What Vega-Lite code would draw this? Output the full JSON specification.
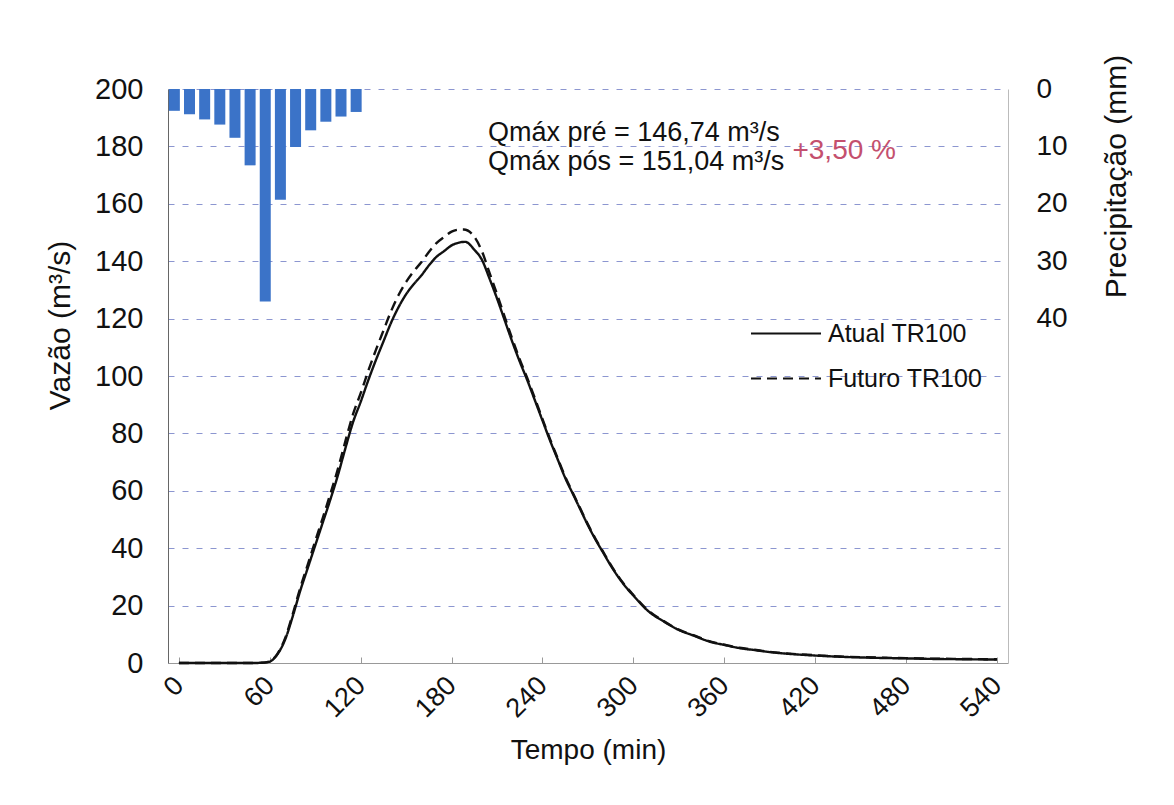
{
  "$schema": "https://vega.github.io/schema/vega-lite/v6.json",
  "width": 840,
  "height": 574,
  "autosize": {"type": "none"},
  "padding": {"left": 168, "top": 89, "right": 166, "bottom": 142},
  "background": "white",
  "config": {
    "view": {"stroke": null},
    "font": "Liberation Sans",
    "axis": {"labelFont": "Liberation Sans", "titleFont": "Liberation Sans", "labelColor": "#111", "titleColor": "#111", "titleFontWeight": "normal"}
  },
  "datasets": {
    "chuva": [
      {"t": -3, "P": 3.8}, {"t": 7, "P": 4.4}, {"t": 17, "P": 5.3}, {"t": 27, "P": 6.2},
      {"t": 37, "P": 8.5}, {"t": 47, "P": 13.3}, {"t": 57, "P": 37.0}, {"t": 67, "P": 19.3},
      {"t": 77, "P": 10.1}, {"t": 87, "P": 7.2}, {"t": 97, "P": 5.7}, {"t": 107, "P": 4.8},
      {"t": 117, "P": 4.0}
    ],
    "vazao": [
      {"t": 0, "Q": 0, "serie": "Atual TR100"}, {"t": 30, "Q": 0, "serie": "Atual TR100"},
      {"t": 50, "Q": 0, "serie": "Atual TR100"}, {"t": 55, "Q": 0.1, "serie": "Atual TR100"},
      {"t": 60, "Q": 0.5, "serie": "Atual TR100"}, {"t": 65, "Q": 3, "serie": "Atual TR100"},
      {"t": 70, "Q": 8, "serie": "Atual TR100"}, {"t": 75, "Q": 16, "serie": "Atual TR100"},
      {"t": 80, "Q": 25, "serie": "Atual TR100"}, {"t": 85, "Q": 33, "serie": "Atual TR100"},
      {"t": 90, "Q": 41, "serie": "Atual TR100"}, {"t": 95, "Q": 49, "serie": "Atual TR100"},
      {"t": 100, "Q": 57, "serie": "Atual TR100"}, {"t": 105, "Q": 65.5, "serie": "Atual TR100"},
      {"t": 110, "Q": 75, "serie": "Atual TR100"}, {"t": 115, "Q": 84, "serie": "Atual TR100"},
      {"t": 120, "Q": 91, "serie": "Atual TR100"}, {"t": 125, "Q": 98.5, "serie": "Atual TR100"},
      {"t": 130, "Q": 105.5, "serie": "Atual TR100"}, {"t": 135, "Q": 112, "serie": "Atual TR100"},
      {"t": 140, "Q": 118.5, "serie": "Atual TR100"}, {"t": 145, "Q": 124, "serie": "Atual TR100"},
      {"t": 150, "Q": 128.5, "serie": "Atual TR100"}, {"t": 155, "Q": 132, "serie": "Atual TR100"},
      {"t": 160, "Q": 135, "serie": "Atual TR100"}, {"t": 165, "Q": 138.5, "serie": "Atual TR100"},
      {"t": 170, "Q": 141.5, "serie": "Atual TR100"}, {"t": 175, "Q": 143.5, "serie": "Atual TR100"},
      {"t": 180, "Q": 145.5, "serie": "Atual TR100"}, {"t": 185, "Q": 146.5, "serie": "Atual TR100"},
      {"t": 189, "Q": 146.74, "serie": "Atual TR100"}, {"t": 195, "Q": 144, "serie": "Atual TR100"},
      {"t": 200, "Q": 140.5, "serie": "Atual TR100"}, {"t": 205, "Q": 134, "serie": "Atual TR100"},
      {"t": 210, "Q": 127, "serie": "Atual TR100"}, {"t": 215, "Q": 119.5, "serie": "Atual TR100"},
      {"t": 220, "Q": 112, "serie": "Atual TR100"}, {"t": 225, "Q": 105, "serie": "Atual TR100"},
      {"t": 230, "Q": 98.5, "serie": "Atual TR100"}, {"t": 235, "Q": 91.5, "serie": "Atual TR100"},
      {"t": 240, "Q": 84.5, "serie": "Atual TR100"}, {"t": 245, "Q": 77.5, "serie": "Atual TR100"},
      {"t": 250, "Q": 71, "serie": "Atual TR100"}, {"t": 255, "Q": 64.5, "serie": "Atual TR100"},
      {"t": 260, "Q": 59, "serie": "Atual TR100"}, {"t": 265, "Q": 53.5, "serie": "Atual TR100"},
      {"t": 270, "Q": 48, "serie": "Atual TR100"}, {"t": 275, "Q": 43, "serie": "Atual TR100"},
      {"t": 280, "Q": 38.5, "serie": "Atual TR100"}, {"t": 285, "Q": 34, "serie": "Atual TR100"},
      {"t": 290, "Q": 30, "serie": "Atual TR100"}, {"t": 295, "Q": 26.5, "serie": "Atual TR100"},
      {"t": 300, "Q": 23.5, "serie": "Atual TR100"}, {"t": 310, "Q": 18, "serie": "Atual TR100"},
      {"t": 320, "Q": 14.5, "serie": "Atual TR100"}, {"t": 330, "Q": 11.5, "serie": "Atual TR100"},
      {"t": 340, "Q": 9.5, "serie": "Atual TR100"}, {"t": 350, "Q": 7.5, "serie": "Atual TR100"},
      {"t": 360, "Q": 6.3, "serie": "Atual TR100"}, {"t": 370, "Q": 5.2, "serie": "Atual TR100"},
      {"t": 380, "Q": 4.5, "serie": "Atual TR100"}, {"t": 390, "Q": 3.8, "serie": "Atual TR100"},
      {"t": 400, "Q": 3.3, "serie": "Atual TR100"}, {"t": 420, "Q": 2.6, "serie": "Atual TR100"},
      {"t": 440, "Q": 2.1, "serie": "Atual TR100"}, {"t": 460, "Q": 1.8, "serie": "Atual TR100"},
      {"t": 480, "Q": 1.6, "serie": "Atual TR100"}, {"t": 500, "Q": 1.4, "serie": "Atual TR100"},
      {"t": 520, "Q": 1.3, "serie": "Atual TR100"}, {"t": 540, "Q": 1.2, "serie": "Atual TR100"},

      {"t": 0, "Q": 0, "serie": "Futuro TR100"}, {"t": 30, "Q": 0, "serie": "Futuro TR100"},
      {"t": 50, "Q": 0, "serie": "Futuro TR100"}, {"t": 55, "Q": 0.1, "serie": "Futuro TR100"},
      {"t": 60, "Q": 0.6, "serie": "Futuro TR100"}, {"t": 65, "Q": 3.2, "serie": "Futuro TR100"},
      {"t": 70, "Q": 8.5, "serie": "Futuro TR100"}, {"t": 75, "Q": 16.8, "serie": "Futuro TR100"},
      {"t": 80, "Q": 26, "serie": "Futuro TR100"}, {"t": 85, "Q": 34.2, "serie": "Futuro TR100"},
      {"t": 90, "Q": 42.5, "serie": "Futuro TR100"}, {"t": 95, "Q": 50.6, "serie": "Futuro TR100"},
      {"t": 100, "Q": 59, "serie": "Futuro TR100"}, {"t": 105, "Q": 67.7, "serie": "Futuro TR100"},
      {"t": 110, "Q": 77.5, "serie": "Futuro TR100"}, {"t": 115, "Q": 86.8, "serie": "Futuro TR100"},
      {"t": 120, "Q": 94, "serie": "Futuro TR100"}, {"t": 125, "Q": 101.8, "serie": "Futuro TR100"},
      {"t": 130, "Q": 109, "serie": "Futuro TR100"}, {"t": 135, "Q": 115.8, "serie": "Futuro TR100"},
      {"t": 140, "Q": 122.5, "serie": "Futuro TR100"}, {"t": 145, "Q": 128.2, "serie": "Futuro TR100"},
      {"t": 150, "Q": 132.8, "serie": "Futuro TR100"}, {"t": 155, "Q": 136.5, "serie": "Futuro TR100"},
      {"t": 160, "Q": 139.6, "serie": "Futuro TR100"}, {"t": 165, "Q": 143.2, "serie": "Futuro TR100"},
      {"t": 170, "Q": 146.3, "serie": "Futuro TR100"}, {"t": 175, "Q": 148.4, "serie": "Futuro TR100"},
      {"t": 180, "Q": 150.3, "serie": "Futuro TR100"}, {"t": 185, "Q": 151, "serie": "Futuro TR100"},
      {"t": 188, "Q": 151.04, "serie": "Futuro TR100"}, {"t": 195, "Q": 148.5, "serie": "Futuro TR100"},
      {"t": 200, "Q": 143.5, "serie": "Futuro TR100"}, {"t": 205, "Q": 136, "serie": "Futuro TR100"},
      {"t": 210, "Q": 128.5, "serie": "Futuro TR100"}, {"t": 215, "Q": 120.7, "serie": "Futuro TR100"},
      {"t": 220, "Q": 113, "serie": "Futuro TR100"}, {"t": 225, "Q": 105.8, "serie": "Futuro TR100"},
      {"t": 230, "Q": 99.2, "serie": "Futuro TR100"}, {"t": 235, "Q": 92.2, "serie": "Futuro TR100"},
      {"t": 240, "Q": 85, "serie": "Futuro TR100"}, {"t": 245, "Q": 78, "serie": "Futuro TR100"},
      {"t": 250, "Q": 71.4, "serie": "Futuro TR100"}, {"t": 255, "Q": 64.9, "serie": "Futuro TR100"},
      {"t": 260, "Q": 59.3, "serie": "Futuro TR100"}, {"t": 265, "Q": 53.8, "serie": "Futuro TR100"},
      {"t": 270, "Q": 48.3, "serie": "Futuro TR100"}, {"t": 275, "Q": 43.3, "serie": "Futuro TR100"},
      {"t": 280, "Q": 38.8, "serie": "Futuro TR100"}, {"t": 285, "Q": 34.3, "serie": "Futuro TR100"},
      {"t": 290, "Q": 30.2, "serie": "Futuro TR100"}, {"t": 295, "Q": 26.7, "serie": "Futuro TR100"},
      {"t": 300, "Q": 23.7, "serie": "Futuro TR100"}, {"t": 310, "Q": 18.2, "serie": "Futuro TR100"},
      {"t": 320, "Q": 14.6, "serie": "Futuro TR100"}, {"t": 330, "Q": 11.6, "serie": "Futuro TR100"},
      {"t": 340, "Q": 9.6, "serie": "Futuro TR100"}, {"t": 350, "Q": 7.6, "serie": "Futuro TR100"},
      {"t": 360, "Q": 6.4, "serie": "Futuro TR100"}, {"t": 370, "Q": 5.3, "serie": "Futuro TR100"},
      {"t": 380, "Q": 4.6, "serie": "Futuro TR100"}, {"t": 390, "Q": 3.9, "serie": "Futuro TR100"},
      {"t": 400, "Q": 3.4, "serie": "Futuro TR100"}, {"t": 420, "Q": 2.7, "serie": "Futuro TR100"},
      {"t": 440, "Q": 2.2, "serie": "Futuro TR100"}, {"t": 460, "Q": 1.9, "serie": "Futuro TR100"},
      {"t": 480, "Q": 1.7, "serie": "Futuro TR100"}, {"t": 500, "Q": 1.5, "serie": "Futuro TR100"},
      {"t": 520, "Q": 1.4, "serie": "Futuro TR100"}, {"t": 540, "Q": 1.3, "serie": "Futuro TR100"}
    ]
  },
  "layer": [
    {
      "data": {"name": "chuva"},
      "mark": {"type": "bar", "size": 11, "color": "#3B73C8", "clip": true, "orient": "vertical"},
      "encoding": {
        "x": {
          "field": "t", "type": "quantitative",
          "scale": {"domain": [-3.9, 544], "nice": false, "zero": false},
          "axis": {
            "values": [0, 60, 120, 180, 240, 300, 360, 420, 480, 540],
            "title": "Tempo (min)", "titleFontSize": 28, "titlePadding": 14,
            "labelFontSize": 27, "labelAngle": -45, "labelAlign": "right", "labelBaseline": "middle",
            "labelPadding": 24, "ticks": true, "tickSize": -6, "tickColor": "#999",
            "domainColor": "#999", "grid": false, "labelFlush": false, "labelOverlap": false
          }
        },
        "y": {
          "field": "P", "type": "quantitative", "stack": null,
          "scale": {"domain": [0, 100], "reverse": true, "nice": false},
          "axis": {
            "orient": "right", "values": [0, 10, 20, 30, 40], "grid": false,
            "ticks": false, "domainColor": "#bbb", "labelPadding": 28, "labelFontSize": 28,
            "title": "Precipitação (mm)", "titleFontSize": 30, "titleAngle": 270,
            "titleX": 108, "titleY": 87, "titleBaseline": "middle", "titleAlign": "center"
          }
        }
      }
    },
    {
      "layer": [
        {
          "data": {"name": "vazao"},
          "mark": {"type": "line", "color": "#111", "strokeWidth": 2.4, "interpolate": "monotone"},
          "encoding": {
            "x": {"field": "t", "type": "quantitative"},
            "y": {
              "field": "Q", "type": "quantitative",
              "scale": {"domain": [0, 200], "nice": false},
              "axis": {
                "values": [0, 20, 40, 60, 80, 100, 120, 140, 160, 180, 200],
                "grid": true, "gridDash": [6, 8], "gridColor": "#8c96d0", "gridWidth": 1,
                "ticks": false, "domainColor": "#666", "labelPadding": 25, "labelFontSize": 29,
                "title": "Vazão (m³/s)", "titleFontSize": 30, "titleAngle": 270,
                "titleX": -108, "titleY": 236, "titleBaseline": "middle", "titleAlign": "center"
              }
            },
            "strokeDash": {
              "field": "serie", "type": "nominal",
              "scale": {"domain": ["Atual TR100", "Futuro TR100"], "range": [[1, 0], [10, 6]]},
              "legend": {
                "orient": "none", "legendX": 582, "legendY": 223, "title": null,
                "symbolType": "stroke", "symbolSize": 4900, "symbolStrokeWidth": 2,
                "symbolStrokeColor": "#111", "labelFontSize": 25, "labelFont": "Liberation Sans",
                "labelColor": "#111", "rowPadding": 2, "clipHeight": 43, "labelOffset": 6
              }
            }
          }
        },
        {
          "data": {"values": [{}]},
          "mark": {"type": "text", "align": "left", "baseline": "middle", "fontSize": 27, "color": "#111", "font": "Liberation Sans"},
          "encoding": {
            "x": {"datum": 204},
            "y": {"datum": 184.5},
            "text": {"value": "Qmáx pré = 146,74 m³/s"}
          }
        },
        {
          "data": {"values": [{}]},
          "mark": {"type": "text", "align": "left", "baseline": "middle", "fontSize": 27, "color": "#111", "font": "Liberation Sans"},
          "encoding": {
            "x": {"datum": 204},
            "y": {"datum": 174.5},
            "text": {"value": "Qmáx pós = 151,04 m³/s"}
          }
        },
        {
          "data": {"values": [{}]},
          "mark": {"type": "text", "align": "left", "baseline": "middle", "fontSize": 28, "color": "#C4506E", "font": "Liberation Sans"},
          "encoding": {
            "x": {"datum": 405},
            "y": {"datum": 178.5},
            "text": {"value": "+3,50 %"}
          }
        }
      ]
    }
  ],
  "resolve": {"scale": {"y": "independent"}, "axis": {"y": "independent"}}
}
